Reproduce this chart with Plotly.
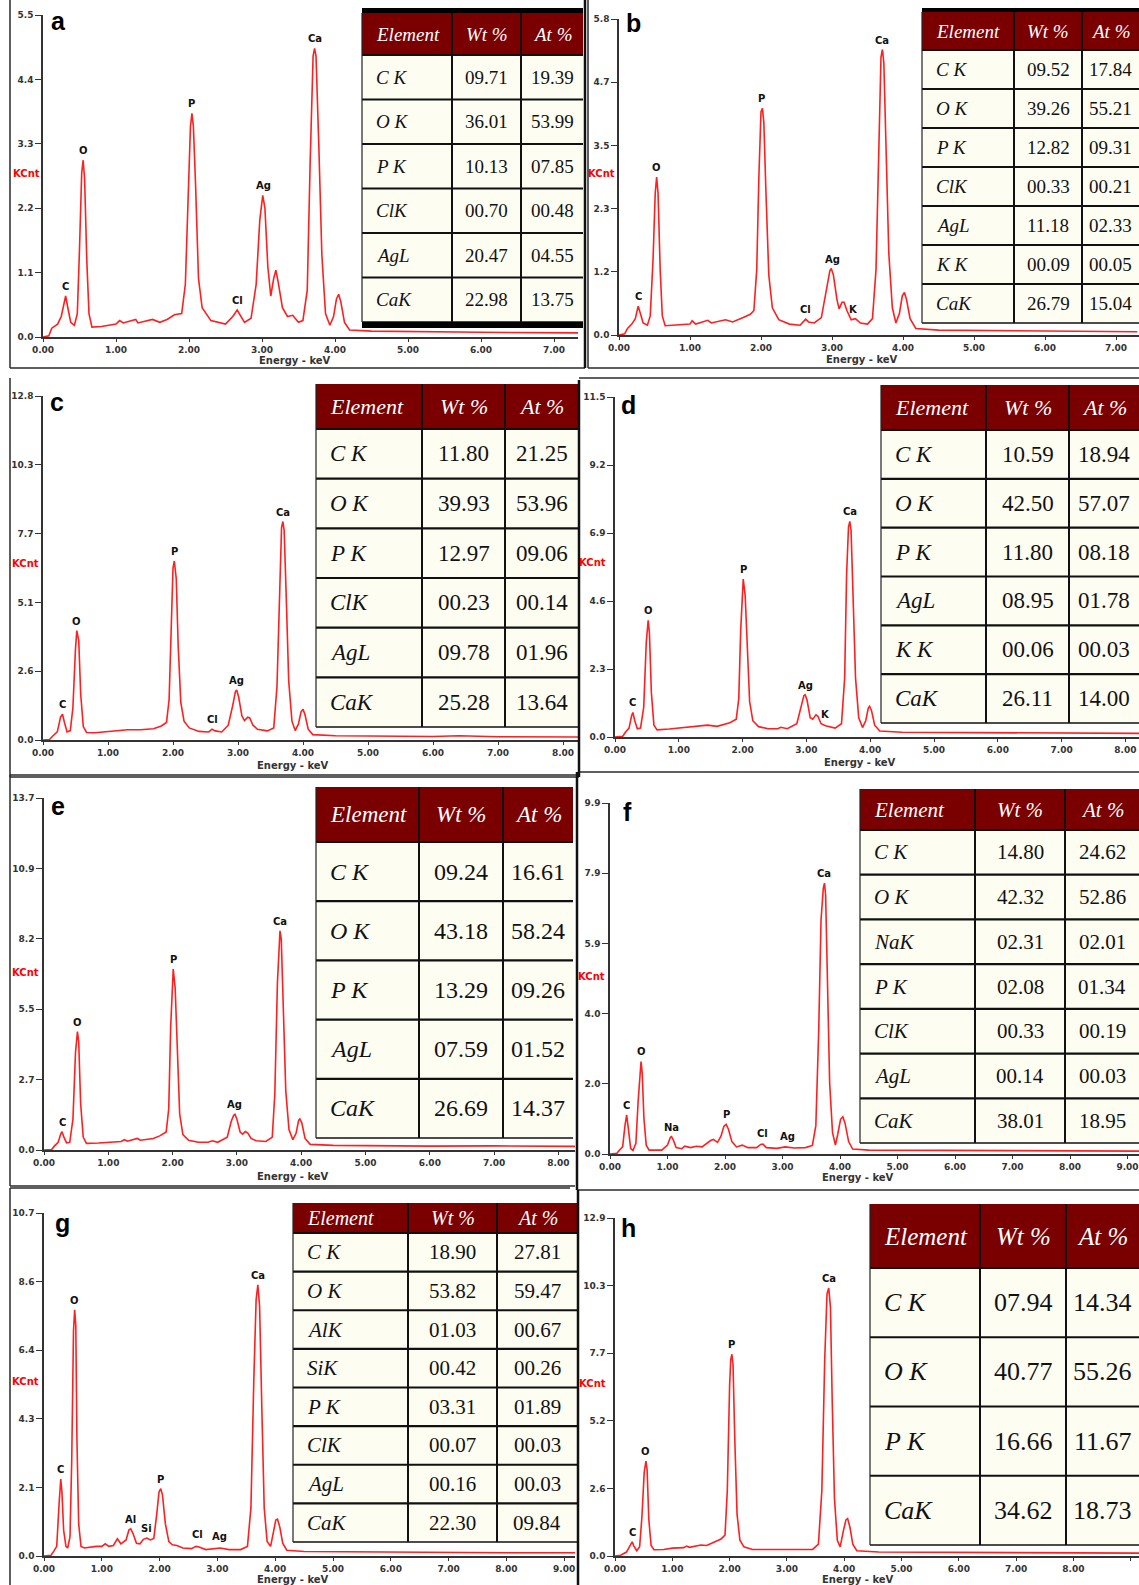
import plotly.graph_objects as go

W, H = 1139, 1585

# ---------------- panel a ----------------
a_points = [(0, 0), (0.08, 0.02), (0.12, 0.15), (0.2, 0.22), (0.25, 0.35), (0.29, 0.62), (0.31, 0.70),
            (0.34, 0.5), (0.38, 0.25), (0.43, 0.2), (0.47, 0.4), (0.5, 1.5), (0.53, 2.8), (0.55, 3.02),
            (0.57, 2.7), (0.6, 1.3), (0.63, 0.4), (0.67, 0.17), (0.8, 0.18), (1.0, 0.22), (1.05, 0.28),
            (1.1, 0.24), (1.27, 0.3), (1.3, 0.24), (1.5, 0.3), (1.6, 0.25), (1.7, 0.3), (1.8, 0.38),
            (1.9, 0.4), (1.95, 0.9), (1.99, 2.6), (2.02, 3.6), (2.04, 3.82), (2.06, 3.6), (2.09, 2.6),
            (2.13, 1.0), (2.18, 0.5), (2.3, 0.28), (2.5, 0.22), (2.6, 0.35), (2.66, 0.46), (2.7, 0.38),
            (2.76, 0.25), (2.85, 0.32), (2.92, 0.9), (2.97, 2.0), (3.01, 2.42), (3.04, 2.2), (3.08, 1.2),
            (3.12, 0.7), (3.16, 1.0), (3.19, 1.14), (3.22, 0.95), (3.28, 0.5), (3.35, 0.35), (3.42, 0.37),
            (3.5, 0.25), (3.56, 0.28), (3.62, 0.8), (3.66, 3.0), (3.7, 4.8), (3.72, 4.93), (3.74, 4.8),
            (3.78, 3.2), (3.82, 1.4), (3.87, 0.4), (3.93, 0.2), (3.98, 0.35), (4.02, 0.65), (4.05, 0.73),
            (4.08, 0.6), (4.13, 0.25), (4.2, 0.12), (4.5, 0.1), (5.0, 0.09), (6.0, 0.08), (7.4, 0.07)]
a_yticks = ["0.0", "1.1", "2.2", "3.3", "4.4", "5.5"]
a_xticks = ["0.00", "1.00", "2.00", "3.00", "4.00", "5.00", "6.00", "7.00"]
a_peak_names = ["C", "O", "P", "Cl", "Ag", "Ca"]
a_peak_energy = [0.31, 0.55, 2.04, 2.66, 3.02, 3.72]
a_peak_counts = [0.70, 3.02, 3.82, 0.46, 2.42, 4.93]
a_elements = ["C K", "O K", "P K", "ClK", "AgL", "CaK"]
a_wt = ["09.71", "36.01", "10.13", "00.70", "20.47", "22.98"]
a_at = ["19.39", "53.99", "07.85", "00.48", "04.55", "13.75"]

# ---------------- panel b ----------------
b_points = [(0, 0), (0.08, 0.02), (0.12, 0.12), (0.18, 0.2), (0.23, 0.3), (0.26, 0.5), (0.27, 0.53),
            (0.3, 0.4), (0.34, 0.22), (0.4, 0.18), (0.44, 0.35), (0.48, 1.4), (0.51, 2.6), (0.53, 2.9),
            (0.55, 2.6), (0.58, 1.2), (0.61, 0.35), (0.65, 0.17), (0.8, 0.18), (1.0, 0.2), (1.03, 0.26),
            (1.08, 0.2), (1.25, 0.27), (1.3, 0.22), (1.5, 0.28), (1.6, 0.24), (1.75, 0.32), (1.85, 0.38),
            (1.9, 0.45), (1.94, 1.2), (1.97, 2.9), (2.0, 4.1), (2.02, 4.16), (2.04, 3.9), (2.07, 2.6),
            (2.11, 1.1), (2.16, 0.5), (2.25, 0.28), (2.4, 0.2), (2.55, 0.18), (2.6, 0.25), (2.63, 0.29),
            (2.67, 0.24), (2.75, 0.22), (2.85, 0.32), (2.92, 0.8), (2.97, 1.18), (2.99, 1.22), (3.02, 1.1),
            (3.07, 0.65), (3.1, 0.48), (3.14, 0.6), (3.17, 0.6), (3.21, 0.45), (3.27, 0.28), (3.33, 0.3),
            (3.4, 0.22), (3.5, 0.2), (3.57, 0.3), (3.62, 1.2), (3.66, 3.8), (3.69, 5.1), (3.71, 5.24),
            (3.73, 5.0), (3.76, 3.5), (3.8, 1.5), (3.85, 0.5), (3.9, 0.22), (3.95, 0.4), (3.99, 0.72),
            (4.02, 0.78), (4.05, 0.65), (4.1, 0.3), (4.18, 0.12), (4.5, 0.09), (5.5, 0.08), (7.3, 0.06)]
b_yticks = ["0.0", "1.2", "2.3", "3.5", "4.7", "5.8"]
b_xticks = ["0.00", "1.00", "2.00", "3.00", "4.00", "5.00", "6.00", "7.00"]
b_peak_names = ["C", "O", "P", "Cl", "Ag", "K", "Ca"]
b_peak_energy = [0.27, 0.53, 2.01, 2.63, 3.00, 3.30, 3.71]
b_peak_counts = [0.53, 2.90, 4.16, 0.29, 1.22, 0.30, 5.24]
b_elements = ["C K", "O K", "P K", "ClK", "AgL", "K K", "CaK"]
b_wt = ["09.52", "39.26", "12.82", "00.33", "11.18", "00.09", "26.79"]
b_at = ["17.84", "55.21", "09.31", "00.21", "02.33", "00.05", "15.04"]

# ---------------- panel c ----------------
c_points = [(0, 0), (0.1, 0.02), (0.15, 0.15), (0.22, 0.3), (0.27, 0.85), (0.3, 0.96), (0.33, 0.65),
            (0.37, 0.3), (0.42, 0.35), (0.46, 1.2), (0.5, 3.4), (0.52, 4.07), (0.55, 3.7), (0.58, 1.7),
            (0.62, 0.5), (0.67, 0.28), (0.8, 0.27), (1.0, 0.32), (1.3, 0.38), (1.5, 0.38), (1.7, 0.42),
            (1.82, 0.52), (1.9, 0.65), (1.94, 1.5), (1.97, 4.5), (2.0, 6.4), (2.02, 6.66), (2.05, 6.0),
            (2.08, 3.5), (2.12, 1.4), (2.17, 0.7), (2.25, 0.45), (2.4, 0.32), (2.55, 0.3), (2.6, 0.4),
            (2.65, 0.34), (2.75, 0.3), (2.85, 0.55), (2.92, 1.3), (2.96, 1.8), (2.98, 1.86), (3.01, 1.6),
            (3.06, 0.9), (3.1, 0.72), (3.15, 0.85), (3.18, 0.82), (3.23, 0.55), (3.3, 0.4), (3.45, 0.34),
            (3.55, 0.45), (3.6, 2.0), (3.64, 6.0), (3.67, 7.9), (3.69, 8.13), (3.71, 7.8), (3.74, 5.5),
            (3.78, 2.2), (3.83, 0.7), (3.88, 0.35), (3.93, 0.6), (3.97, 1.05), (4.0, 1.14), (4.03, 0.95),
            (4.08, 0.4), (4.15, 0.2), (4.5, 0.16), (6.0, 0.13), (6.4, 0.16), (7.0, 0.12), (8.3, 0.11)]
c_yticks = ["0.0", "2.6", "5.1", "7.7", "10.3", "12.8"]
c_xticks = ["0.00", "1.00", "2.00", "3.00", "4.00", "5.00", "6.00", "7.00", "8.00"]
c_peak_names = ["C", "O", "P", "Cl", "Ag", "Ca"]
c_peak_energy = [0.30, 0.52, 2.02, 2.60, 2.98, 3.69]
c_peak_counts = [0.96, 4.07, 6.66, 0.40, 1.86, 8.13]
c_elements = ["C K", "O K", "P K", "ClK", "AgL", "CaK"]
c_wt = ["11.80", "39.93", "12.97", "00.23", "09.78", "25.28"]
c_at = ["21.25", "53.96", "09.06", "00.14", "01.96", "13.64"]

# ---------------- panel d ----------------
d_points = [(0, 0), (0.12, 0.02), (0.16, 0.15), (0.22, 0.3), (0.26, 0.72), (0.28, 0.83), (0.31, 0.55),
            (0.35, 0.28), (0.4, 0.3), (0.45, 1.0), (0.49, 3.2), (0.52, 3.95), (0.54, 3.5), (0.57, 1.5),
            (0.61, 0.4), (0.66, 0.24), (0.85, 0.27), (1.0, 0.3), (1.2, 0.33), (1.45, 0.4), (1.6, 0.36),
            (1.8, 0.48), (1.9, 0.6), (1.94, 1.3), (1.97, 3.6), (2.0, 5.1), (2.01, 5.34), (2.04, 4.8),
            (2.07, 3.0), (2.11, 1.2), (2.16, 0.55), (2.25, 0.35), (2.4, 0.28), (2.55, 0.28), (2.6, 0.33),
            (2.7, 0.28), (2.85, 0.45), (2.92, 1.1), (2.96, 1.4), (2.98, 1.43), (3.01, 1.25), (3.06, 0.65),
            (3.1, 0.6), (3.15, 0.75), (3.18, 0.7), (3.23, 0.45), (3.3, 0.38), (3.45, 0.3), (3.55, 0.45),
            (3.6, 2.0), (3.63, 5.5), (3.66, 7.1), (3.68, 7.29), (3.7, 7.0), (3.73, 5.0), (3.77, 2.0),
            (3.82, 0.65), (3.88, 0.32), (3.93, 0.55), (3.97, 0.98), (3.99, 1.04), (4.02, 0.9), (4.07, 0.4),
            (4.15, 0.2), (4.5, 0.16), (6.0, 0.14), (7.0, 0.13), (8.3, 0.12)]
d_yticks = ["0.0", "2.3", "4.6", "6.9", "9.2", "11.5"]
d_xticks = ["0.00", "1.00", "2.00", "3.00", "4.00", "5.00", "6.00", "7.00", "8.00"]
d_peak_names = ["C", "O", "P", "Ag", "K", "Ca"]
d_peak_energy = [0.28, 0.52, 2.01, 2.98, 3.30, 3.68]
d_peak_counts = [0.83, 3.95, 5.34, 1.43, 0.45, 7.29]
d_elements = ["C K", "O K", "P K", "AgL", "K K", "CaK"]
d_wt = ["10.59", "42.50", "11.80", "08.95", "00.06", "26.11"]
d_at = ["18.94", "57.07", "08.18", "01.78", "00.03", "14.00"]

# ---------------- panel e ----------------
e_points = [(0, 0), (0.12, 0.02), (0.16, 0.15), (0.22, 0.3), (0.26, 0.62), (0.28, 0.71), (0.31, 0.5),
            (0.35, 0.28), (0.4, 0.3), (0.45, 1.2), (0.49, 3.8), (0.52, 4.61), (0.54, 4.2), (0.57, 1.8),
            (0.61, 0.5), (0.66, 0.26), (0.85, 0.27), (1.0, 0.3), (1.2, 0.33), (1.25, 0.4), (1.3, 0.34),
            (1.45, 0.45), (1.5, 0.38), (1.7, 0.45), (1.8, 0.55), (1.9, 0.7), (1.94, 1.6), (1.97, 4.8),
            (2.0, 6.8), (2.01, 7.04), (2.04, 6.3), (2.07, 3.8), (2.11, 1.4), (2.16, 0.6), (2.25, 0.38),
            (2.4, 0.3), (2.55, 0.3), (2.62, 0.36), (2.7, 0.3), (2.85, 0.5), (2.91, 1.1), (2.95, 1.35),
            (2.97, 1.39), (3.0, 1.2), (3.05, 0.7), (3.09, 0.62), (3.13, 0.72), (3.17, 0.66), (3.22, 0.45),
            (3.3, 0.36), (3.45, 0.33), (3.55, 0.5), (3.59, 2.2), (3.63, 6.5), (3.66, 8.3), (3.67, 8.53),
            (3.69, 8.2), (3.72, 5.8), (3.76, 2.3), (3.81, 0.8), (3.87, 0.4), (3.92, 0.65), (3.96, 1.15),
            (3.98, 1.21), (4.01, 1.05), (4.06, 0.45), (4.14, 0.22), (4.5, 0.18), (6.0, 0.15), (7.0, 0.16),
            (8.3, 0.14)]
e_yticks = ["0.0", "2.7", "5.5", "8.2", "10.9", "13.7"]
e_xticks = ["0.00", "1.00", "2.00", "3.00", "4.00", "5.00", "6.00", "7.00", "8.00"]
e_peak_names = ["C", "O", "P", "Ag", "Ca"]
e_peak_energy = [0.28, 0.52, 2.01, 2.97, 3.67]
e_peak_counts = [0.71, 4.61, 7.04, 1.39, 8.53]
e_elements = ["C K", "O K", "P K", "AgL", "CaK"]
e_wt = ["09.24", "43.18", "13.29", "07.59", "26.69"]
e_at = ["16.61", "58.24", "09.26", "01.52", "14.37"]

# ---------------- panel f ----------------
f_points = [(0, 0), (0.12, 0.02), (0.17, 0.12), (0.22, 0.2), (0.26, 0.8), (0.29, 1.1), (0.32, 0.7),
            (0.36, 0.15), (0.4, 0.1), (0.45, 0.3), (0.49, 1.5), (0.52, 2.4), (0.54, 2.61), (0.56, 2.3),
            (0.59, 1.0), (0.63, 0.25), (0.68, 0.11), (0.9, 0.11), (1.0, 0.25), (1.05, 0.47), (1.07, 0.49),
            (1.1, 0.4), (1.15, 0.18), (1.25, 0.15), (1.3, 0.22), (1.4, 0.18), (1.5, 0.22), (1.6, 0.2),
            (1.75, 0.38), (1.8, 0.41), (1.87, 0.33), (1.93, 0.5), (1.98, 0.78), (2.02, 0.84), (2.06, 0.7),
            (2.12, 0.35), (2.2, 0.2), (2.3, 0.25), (2.4, 0.18), (2.55, 0.18), (2.62, 0.27), (2.66, 0.28),
            (2.72, 0.18), (2.9, 0.16), (3.05, 0.2), (3.2, 0.17), (3.4, 0.18), (3.52, 0.24), (3.58, 0.8),
            (3.63, 3.5), (3.67, 6.6), (3.71, 7.5), (3.73, 7.64), (3.75, 7.3), (3.78, 5.2), (3.82, 2.0),
            (3.87, 0.6), (3.92, 0.25), (3.96, 0.55), (4.01, 0.98), (4.05, 1.05), (4.09, 0.85), (4.15, 0.35),
            (4.22, 0.14), (4.5, 0.11), (6.0, 0.1), (7.0, 0.1), (8.2, 0.09), (9.3, 0.08)]
f_yticks = ["0.0", "2.0", "4.0", "5.9", "7.9", "9.9"]
f_xticks = ["0.00", "1.00", "2.00", "3.00", "4.00", "5.00", "6.00", "7.00", "8.00", "9.00"]
f_peak_names = ["C", "O", "Na", "P", "Cl", "Ag", "Ca"]
f_peak_energy = [0.29, 0.54, 1.07, 2.02, 2.66, 3.08, 3.73]
f_peak_counts = [1.10, 2.61, 0.49, 0.84, 0.32, 0.22, 7.64]
f_elements = ["C K", "O K", "NaK", "P K", "ClK", "AgL", "CaK"]
f_wt = ["14.80", "42.32", "02.31", "02.08", "00.33", "00.14", "38.01"]
f_at = ["24.62", "52.86", "02.01", "01.34", "00.19", "00.03", "18.95"]

# ---------------- panel g ----------------
g_points = [(0, 0), (0.12, 0.02), (0.17, 0.15), (0.22, 0.3), (0.26, 1.6), (0.28, 2.3), (0.29, 2.4),
            (0.31, 2.0), (0.34, 0.8), (0.38, 0.3), (0.41, 0.25), (0.45, 0.6), (0.48, 3.0), (0.51, 7.0),
            (0.53, 7.68), (0.55, 7.2), (0.57, 3.6), (0.6, 1.0), (0.64, 0.3), (0.7, 0.25), (0.9, 0.3),
            (1.0, 0.3), (1.06, 0.38), (1.12, 0.3), (1.2, 0.33), (1.27, 0.54), (1.33, 0.38), (1.42, 0.5),
            (1.47, 0.82), (1.5, 0.85), (1.54, 0.7), (1.6, 0.4), (1.66, 0.38), (1.72, 0.52), (1.78, 0.56),
            (1.84, 0.5), (1.9, 0.55), (1.95, 1.3), (1.99, 2.0), (2.02, 2.1), (2.05, 1.9), (2.1, 1.0),
            (2.16, 0.45), (2.22, 0.35), (2.3, 0.33), (2.4, 0.25), (2.55, 0.23), (2.63, 0.3), (2.68, 0.28),
            (2.8, 0.2), (3.0, 0.23), (3.05, 0.25), (3.2, 0.2), (3.4, 0.2), (3.52, 0.3), (3.58, 1.5),
            (3.63, 5.5), (3.67, 8.0), (3.7, 8.46), (3.73, 7.8), (3.77, 4.5), (3.81, 1.5), (3.86, 0.45),
            (3.92, 0.3), (3.97, 0.75), (4.01, 1.12), (4.04, 1.15), (4.08, 0.9), (4.13, 0.4), (4.2, 0.18),
            (4.5, 0.14), (6.0, 0.12), (7.0, 0.12), (8.0, 0.1), (9.3, 0.1)]
g_yticks = ["0.0", "2.1", "4.3", "6.4", "8.6", "10.7"]
g_xticks = ["0.00", "1.00", "2.00", "3.00", "4.00", "5.00", "6.00", "7.00", "8.00", "9.00"]
g_peak_names = ["C", "O", "Al", "Si", "P", "Cl", "Ag", "Ca"]
g_peak_energy = [0.29, 0.53, 1.50, 1.78, 2.02, 2.66, 3.03, 3.70]
g_peak_counts = [2.40, 7.68, 0.85, 0.56, 2.10, 0.36, 0.30, 8.46]
g_elements = ["C K", "O K", "AlK", "SiK", "P K", "ClK", "AgL", "CaK"]
g_wt = ["18.90", "53.82", "01.03", "00.42", "03.31", "00.07", "00.16", "22.30"]
g_at = ["27.81", "59.47", "00.67", "00.26", "01.89", "00.03", "00.03", "09.84"]

# ---------------- panel h ----------------
h_points = [(0, 0), (0.1, 0.03), (0.2, 0.15), (0.27, 0.4), (0.3, 0.54), (0.33, 0.38), (0.38, 0.2),
            (0.43, 0.35), (0.47, 1.5), (0.51, 3.2), (0.54, 3.62), (0.56, 3.3), (0.59, 1.4), (0.63, 0.4),
            (0.68, 0.24), (0.85, 0.25), (1.0, 0.3), (1.2, 0.32), (1.25, 0.38), (1.3, 0.33), (1.5, 0.42),
            (1.6, 0.4), (1.75, 0.55), (1.85, 0.65), (1.92, 0.8), (1.96, 2.5), (2.0, 6.5), (2.02, 7.5),
            (2.04, 7.7), (2.06, 7.3), (2.09, 4.5), (2.13, 1.6), (2.18, 0.6), (2.25, 0.35), (2.4, 0.25),
            (2.8, 0.24), (3.2, 0.24), (3.45, 0.25), (3.55, 0.45), (3.61, 2.5), (3.66, 7.5), (3.7, 10.0),
            (3.73, 10.23), (3.76, 9.5), (3.79, 6.0), (3.83, 2.2), (3.88, 0.6), (3.93, 0.35), (3.98, 0.9),
            (4.03, 1.38), (4.06, 1.43), (4.1, 1.1), (4.15, 0.45), (4.22, 0.2), (4.6, 0.15), (6.0, 0.14),
            (7.0, 0.13), (8.0, 0.12), (9.3, 0.11)]
h_yticks = ["0.0", "2.6", "5.2", "7.7", "10.3", "12.9"]
h_xticks = ["0.00", "1.00", "2.00", "3.00", "4.00", "5.00", "6.00", "7.00", "8.00", "9.00"]
h_peak_names = ["C", "O", "P", "Ca"]
h_peak_energy = [0.30, 0.54, 2.04, 3.73]
h_peak_counts = [0.54, 3.62, 7.70, 10.23]
h_elements = ["C K", "O K", "P K", "CaK"]
h_wt = ["07.94", "40.77", "16.66", "34.62"]
h_at = ["14.34", "55.26", "11.67", "18.73"]

table_header = ["Element", "Wt %", "At %"]

# ---------------- layout of panels (pixel geometry) ----------------
panels = [
    dict(letter="a", pts=a_points, yt=a_yticks, xt=a_xticks,
         pk=(a_peak_names, a_peak_energy, a_peak_counts), tab=(a_elements, a_wt, a_at),
         x0=43, ppk=73.0, y0=337, ytop=15, xr=578, let=(58, 21), kc=(26, 173), et=(295, 361),
         t=dict(x0=362, c1=452, c2=521, x1=583, yt=13, yh=55, yb=322, fs=19, hfs=19,
                bar_top=(8, 13), bar_bot=(322, 328))),
    dict(letter="b", pts=b_points, yt=b_yticks, xt=b_xticks,
         pk=(b_peak_names, b_peak_energy, b_peak_counts), tab=(b_elements, b_wt, b_at),
         x0=619, ppk=71.0, y0=335, ytop=19, xr=1139, let=(634, 23), kc=(601, 174), et=(862, 359),
         t=dict(x0=922, c1=1014, c2=1082, x1=1139, yt=12, yh=50, yb=323, fs=19, hfs=19,
                bar_top=(8, 12), bar_bot=None)),
    dict(letter="c", pts=c_points, yt=c_yticks, xt=c_xticks,
         pk=(c_peak_names, c_peak_energy, c_peak_counts), tab=(c_elements, c_wt, c_at),
         x0=43, ppk=65.0, y0=740, ytop=396, xr=578, let=(57, 402), kc=(25, 564), et=(293, 766),
         t=dict(x0=316, c1=422, c2=505, x1=578, yt=384, yh=429, yb=727, fs=23, hfs=22,
                bar_top=None, bar_bot=None)),
    dict(letter="d", pts=d_points, yt=d_yticks, xt=d_xticks,
         pk=(d_peak_names, d_peak_energy, d_peak_counts), tab=(d_elements, d_wt, d_at),
         x0=615, ppk=63.8, y0=737, ytop=397, xr=1139, let=(628, 405), kc=(592, 563), et=(860, 762),
         t=dict(x0=881, c1=986, c2=1069, x1=1139, yt=385, yh=430, yb=723, fs=23, hfs=22,
                bar_top=None, bar_bot=None)),
    dict(letter="e", pts=e_points, yt=e_yticks, xt=e_xticks,
         pk=(e_peak_names, e_peak_energy, e_peak_counts), tab=(e_elements, e_wt, e_at),
         x0=44, ppk=64.3, y0=1150, ytop=798, xr=575, let=(58, 806), kc=(25, 972), et=(293, 1176),
         t=dict(x0=316, c1=419, c2=503, x1=573, yt=787, yh=842, yb=1138, fs=24, hfs=23,
                bar_top=None, bar_bot=None)),
    dict(letter="f", pts=f_points, yt=f_yticks, xt=f_xticks,
         pk=(f_peak_names, f_peak_energy, f_peak_counts), tab=(f_elements, f_wt, f_at),
         x0=610, ppk=57.5, y0=1154, ytop=803, xr=1139, let=(627, 812), kc=(591, 976), et=(858, 1177),
         t=dict(x0=860, c1=975, c2=1065, x1=1139, yt=789, yh=830, yb=1143, fs=21, hfs=21,
                bar_top=None, bar_bot=None)),
    dict(letter="g", pts=g_points, yt=g_yticks, xt=g_xticks,
         pk=(g_peak_names, g_peak_energy, g_peak_counts), tab=(g_elements, g_wt, g_at),
         x0=44, ppk=57.8, y0=1556, ytop=1213, xr=575, let=(62, 1223), kc=(25, 1381), et=(293, 1579),
         t=dict(x0=293, c1=408, c2=497, x1=577, yt=1203, yh=1233, yb=1542, fs=21, hfs=20,
                bar_top=None, bar_bot=None)),
    dict(letter="h", pts=h_points, yt=h_yticks, xt=h_xticks,
         pk=(h_peak_names, h_peak_energy, h_peak_counts), tab=(h_elements, h_wt, h_at),
         x0=615, ppk=57.3, y0=1556, ytop=1218, xr=1139, let=(628, 1228), kc=(592, 1383), et=(858, 1579),
         t=dict(x0=870, c1=980, c2=1066, x1=1139, yt=1204, yh=1268, yb=1545, fs=26, hfs=25,
                bar_top=None, bar_bot=None)),
]

# panel frame lines (pixel segments)
frames = [
    (10, 0, 10, 368), (10, 368, 585, 368), (588, 0, 588, 368), (588, 368, 1139, 368),
    (10, 378, 10, 777), (10, 777, 579, 777), (579, 378, 1139, 378), (579, 772, 1139, 772),
    (10, 775, 578, 775), (10, 775, 10, 1186), (10, 1186, 575, 1186),
    (10, 1188, 570, 1188), (10, 1188, 10, 1585), (578, 1190, 1139, 1190),
]
thick_frames = [(585, 0, 585, 368), (579, 380, 579, 777), (577, 772, 577, 1190), (578, 1190, 578, 1585)]


def px(x):
    return x / W


def py(y):
    return 1 - y / H


fig = go.Figure()
shapes = []
annotations = []

AXC = "#333333"
TICKFONT = dict(family="DejaVu Sans", size=9, color=AXC, weight="bold")
SERIF = "Liberation Serif, Times New Roman, serif"
SANS_B = "DejaVu Sans"

for i, p in enumerate(panels):
    n = i + 1
    sfx = "" if n == 1 else str(n)
    xname, yname = "x" + sfx, "y" + sfx
    energy = [q[0] for q in p["pts"]]
    counts = [q[1] for q in p["pts"]]
    ymax = float(p["yt"][-1])
    emax = (p["xr"] - p["x0"]) / p["ppk"]

    fig.add_trace(go.Scatter(x=energy, y=counts, mode="lines", xaxis=xname, yaxis=yname,
                             line=dict(color="#ff1f1f", width=1.6), hoverinfo="skip",
                             showlegend=False))

    fig.layout["xaxis" + sfx] = dict(
        domain=[px(p["x0"]), px(p["xr"])], range=[0, emax], anchor=yname, automargin=False,
        showline=True, linecolor=AXC, linewidth=1.5, showgrid=False, zeroline=False,
        ticks="outside", ticklen=3, tickcolor=AXC, tickwidth=1,
        tickvals=[float(t) for t in p["xt"]], ticktext=p["xt"], tickfont=TICKFONT,
        fixedrange=True)
    fig.layout["yaxis" + sfx] = dict(
        domain=[py(p["y0"]), py(p["ytop"])], range=[0, ymax], anchor=xname, automargin=False,
        showline=True, linecolor=AXC, linewidth=1.5, showgrid=False, zeroline=False,
        ticks="outside", ticklen=6, tickcolor=AXC, tickwidth=1,
        tickvals=[ymax * k / 5 for k in range(6)], ticktext=p["yt"], tickfont=TICKFONT,
        fixedrange=True)

    # peak labels
    for name, e, c in zip(*p["pk"]):
        annotations.append(dict(x=e, y=c, xref=xname, yref=yname, text=name, showarrow=False,
                                xanchor="center", yanchor="bottom", yshift=2,
                                font=dict(family=SANS_B, size=10, color="#111", weight="bold")))

    annotations.append(dict(x=px(p["let"][0]), y=py(p["let"][1]), xref="paper", yref="paper",
                            text=p["letter"], showarrow=False, xanchor="center", yanchor="middle",
                            font=dict(family="Liberation Sans, Arial", size=25, color="#000",
                                      weight="bold")))
    annotations.append(dict(x=px(p["kc"][0]), y=py(p["kc"][1]), xref="paper", yref="paper",
                            text="KCnt", showarrow=False, xanchor="center", yanchor="middle",
                            font=dict(family=SANS_B, size=10, color="#ff0000", weight="bold")))
    annotations.append(dict(x=px(p["et"][0]), y=py(p["et"][1]), xref="paper", yref="paper",
                            text="Energy - keV", showarrow=False, xanchor="center", yanchor="middle",
                            font=dict(family=SANS_B, size=10, color=AXC, weight="bold")))

    # ---------- table ----------
    t = p["t"]
    els, wts, ats = p["tab"]
    nrows = len(els)
    rh = (t["yb"] - t["yh"]) / nrows
    shapes.append(dict(type="rect", xref="paper", yref="paper", layer="above",
                       x0=px(t["x0"]), x1=px(t["x1"]), y0=py(t["yh"]), y1=py(t["yt"]),
                       fillcolor="#7a0000", line=dict(width=0)))
    shapes.append(dict(type="rect", xref="paper", yref="paper", layer="above",
                       x0=px(t["x0"]), x1=px(t["x1"]), y0=py(t["yb"]), y1=py(t["yh"]),
                       fillcolor="#fdfdf1", line=dict(width=0)))
    for r in range(nrows + 1):
        yy = t["yh"] + r * rh
        shapes.append(dict(type="line", xref="paper", yref="paper", layer="above",
                           x0=px(t["x0"]), x1=px(t["x1"]), y0=py(yy), y1=py(yy),
                           line=dict(color="#111", width=2.2 if r < nrows else 1.5)))
    for cx in (t["c1"], t["c2"]):
        shapes.append(dict(type="line", xref="paper", yref="paper", layer="above",
                           x0=px(cx), x1=px(cx), y0=py(t["yb"]), y1=py(t["yt"]),
                           line=dict(color="#111", width=2)))
    shapes.append(dict(type="line", xref="paper", yref="paper", layer="above",
                       x0=px(t["x0"]), x1=px(t["x0"]), y0=py(t["yb"]), y1=py(t["yt"]),
                       line=dict(color="#222", width=1.2)))
    for bar in (t["bar_top"], t["bar_bot"]):
        if bar:
            shapes.append(dict(type="rect", xref="paper", yref="paper", layer="above",
                               x0=px(t["x0"]), x1=px(t["x1"]), y0=py(bar[1]), y1=py(bar[0]),
                               fillcolor="#000", line=dict(width=0)))
    ycen = (t["yt"] + t["yh"]) / 2
    hx = [t["x0"] + 12, (t["c1"] + t["c2"]) / 2, (t["c2"] + t["x1"]) / 2]
    hanc = ["left", "center", "center"]
    for txt, xx, anc in zip(table_header, hx, hanc):
        annotations.append(dict(x=px(xx), y=py(ycen), xref="paper", yref="paper",
                                text="<i>" + txt + "</i>", showarrow=False, xanchor=anc,
                                yanchor="middle",
                                font=dict(family=SERIF, size=t["hfs"], color="#ffffff")))
    for r in range(nrows):
        yc = t["yh"] + (r + 0.5) * rh
        cells = ["<i>" + els[r] + "</i>", wts[r], ats[r]]
        for txt, xx, anc in zip(cells, hx, hanc):
            annotations.append(dict(x=px(xx), y=py(yc), xref="paper", yref="paper",
                                    text=txt, showarrow=False, xanchor=anc, yanchor="middle",
                                    font=dict(family=SERIF, size=t["fs"], color="#111")))

for (xa, ya, xb, yb) in frames:
    shapes.append(dict(type="line", xref="paper", yref="paper", layer="above",
                       x0=px(xa), x1=px(xb), y0=py(ya), y1=py(yb),
                       line=dict(color="#2a2a2a", width=1.5)))
for (xa, ya, xb, yb) in thick_frames:
    shapes.append(dict(type="line", xref="paper", yref="paper", layer="above",
                       x0=px(xa), x1=px(xb), y0=py(ya), y1=py(yb),
                       line=dict(color="#111", width=2.5)))

fig.update_layout(width=W, height=H, margin=dict(l=0, r=0, t=0, b=0, autoexpand=False),
                  paper_bgcolor="white", plot_bgcolor="rgba(0,0,0,0)",
                  showlegend=False, shapes=shapes, annotations=annotations)

fig.write_html("out.html", config={"displayModeBar": False},
               post_script="document.body.style.margin='0';document.body.style.overflow='hidden';")
